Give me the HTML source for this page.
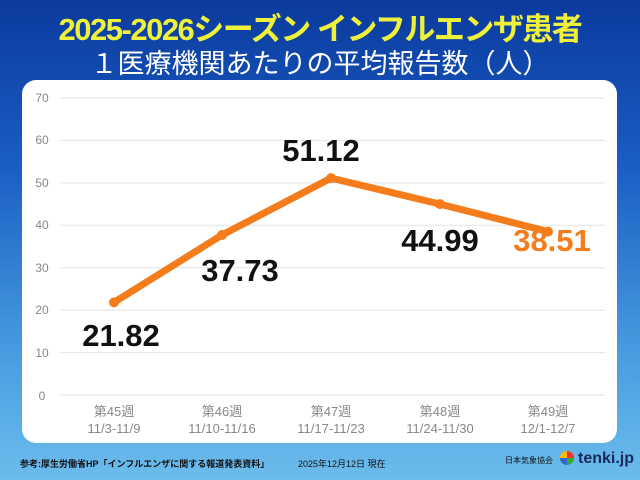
<!DOCTYPE html>
<html><head><meta charset="utf-8"><style>
body{margin:0;width:640px;height:480px;overflow:hidden;background:linear-gradient(180deg,#0b3a9e 0%,#1a5ec4 35%,#4a9ee0 75%,#6cbcec 100%);font-family:"Liberation Sans","Noto Sans CJK JP",sans-serif;position:relative}
.t1{position:absolute;top:4px;left:0;width:640px;text-align:center;color:#eef03a;font-size:31px;font-weight:bold;letter-spacing:-1.5px}
.t2{position:absolute;top:42px;left:0;width:640px;text-align:center;color:#fff;font-size:27px;letter-spacing:0px}
.panel{position:absolute;left:22px;top:80px;width:595px;height:363px;background:#fff;border-radius:14px}
.foot{position:absolute;top:457px;font-size:9px;color:#111}
</style></head><body>
<div class="t1">2025-2026シーズン インフルエンザ患者</div>
<div class="t2">１医療機関あたりの平均報告数（人）</div>
<div class="panel"></div>
<svg width="640" height="480" style="position:absolute;left:0;top:0" font-family="Liberation Sans, Noto Sans CJK JP, sans-serif">
<g stroke="#e3e3e3" stroke-width="1">
<line x1="60" x2="605" y1="98" y2="98"/><line x1="60" x2="605" y1="140.4" y2="140.4"/><line x1="60" x2="605" y1="182.9" y2="182.9"/><line x1="60" x2="605" y1="225.3" y2="225.3"/><line x1="60" x2="605" y1="267.7" y2="267.7"/><line x1="60" x2="605" y1="310.1" y2="310.1"/><line x1="60" x2="605" y1="352.6" y2="352.6"/><line x1="60" x2="605" y1="395" y2="395"/>
</g>
<g fill="#888" font-size="12" text-anchor="middle">
<text x="42" y="102">70</text><text x="42" y="144">60</text><text x="42" y="187">50</text><text x="42" y="229">40</text><text x="42" y="272">30</text><text x="42" y="314">20</text><text x="42" y="357">10</text><text x="42" y="400">0</text>
</g>
<g fill="#888" font-size="13" text-anchor="middle">
<text x="114" y="416">第45週</text><text x="114" y="433">11/3-11/9</text>
<text x="222" y="416">第46週</text><text x="222" y="433">11/10-11/16</text>
<text x="331" y="416">第47週</text><text x="331" y="433">11/17-11/23</text>
<text x="440" y="416">第48週</text><text x="440" y="433">11/24-11/30</text>
<text x="548" y="416">第49週</text><text x="548" y="433">12/1-12/7</text>
</g>
<polyline points="114,302.4 222,235 331,178.1 440,204.1 548,231.6" fill="none" stroke="#f57c1a" stroke-width="7" stroke-linejoin="round"/>
<g fill="#f57c1a"><circle cx="114" cy="302.4" r="5"/><circle cx="222" cy="235" r="5"/><circle cx="331" cy="178.1" r="5"/><circle cx="440" cy="204.1" r="5"/><circle cx="548" cy="231.6" r="5"/></g>
<g font-size="31" font-weight="bold" text-anchor="middle" fill="#111">
<text x="121" y="346">21.82</text><text x="240" y="281">37.73</text><text x="321" y="161">51.12</text><text x="440" y="251">44.99</text><text x="552" y="251" fill="#f57c1a">38.51</text>
</g>
</svg>
<div class="foot" style="left:20px;font-weight:bold">参考:厚生労働省HP「インフルエンザに関する報道発表資料」</div>
<div class="foot" style="left:298px">2025年12月12日 現在</div>
<div class="foot" style="left:505px;top:455px;font-size:8px">日本気象協会</div>
<div class="foot" style="left:578px;top:450px;font-size:16px;font-weight:bold;color:#1a2a5a">tenki.jp</div>
<div style="position:absolute;left:560px;top:451px;width:14px;height:14px;border-radius:50%;background:conic-gradient(#e33 0 25%,#3a3 0 50%,#36c 0 75%,#fb0 0)"></div>
</body></html>
